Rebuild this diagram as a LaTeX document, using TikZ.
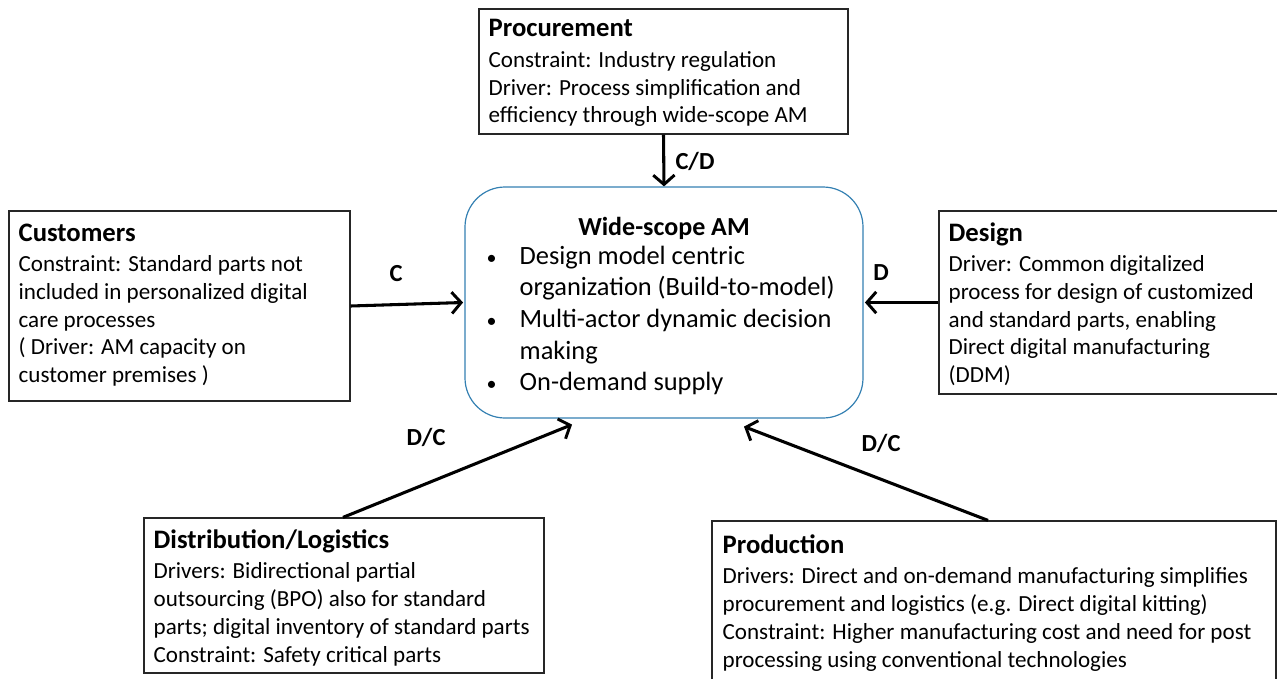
\documentclass[tikz,border=0pt]{standalone}
\usepackage{fontspec}
\setmainfont{Carlito}
\usetikzlibrary{arrows.meta,positioning,calc}
\definecolor{frameblue}{RGB}{52,128,178}
\newcommand{\ttl}[1]{{\fontsize{20}{20.8}\selectfont\bfseries #1}}
\newlength{\bulw}
\setlength{\bulw}{24.75pt}
\newcommand{\bul}{\makebox[\bulw][l]{{\fontsize{15}{15}\selectfont•}}}
\tikzset{
  box/.style={draw=black!85, line width=0.9pt, rectangle, inner sep=0pt},
  txt/.style={inner sep=0pt, align=left, anchor=north west,
    font=\fontsize{17.3}{20.8}\selectfont},
  link/.style={line width=2.3pt, -{Straight Barb[length=7pt,width=16pt,line width=2.2pt]}},
  tag/.style={font=\fontsize{18.4}{20}\selectfont\bfseries, inner sep=0pt}
}
\begin{document}
\begin{tikzpicture}[x=0.75pt,y=-0.75pt]
\useasboundingbox (0,0) rectangle (1277,678);
\clip (0,0) rectangle (1277,678);

% central box
\node[draw=frameblue, line width=0.9pt, rounded corners=30pt, minimum width=298.5pt, minimum height=173.25pt, inner sep=0pt] (wide) at (664,302.5) {};
\node[font=\fontsize{19.5}{22}\selectfont\bfseries, inner sep=0pt] (widettl) at ([yshift=-42*0.75pt]wide.north) {Wide-scope AM};
\node[inner sep=0pt, align=left, anchor=north west, font=\fontsize{19.8}{23.8}\selectfont] (widetxt) at ([shift={(22*0.75pt,-59*0.75pt)}]wide.north west)
 {\bul Design model centric\\
  \hspace*{\bulw}organization (Build-to-model)\\
  \bul Multi-actor dynamic decision\\
  \hspace*{\bulw}making\\
  \bul On-demand supply};

% surrounding boxes
\node[box, minimum width=276.75pt, minimum height=93.75pt] (proc) at (663.5,71.5) {};
\node[txt] (proctxt) at ([shift={(10*0.75pt,-11*0.75pt)}]proc.north west)
 {\ttl{Procurement}\\[2pt]
  Constraint: Industry regulation\\
  Driver: Process simplification and\\
  efficiency through wide-scope AM};

\node[box, minimum width=255.75pt, minimum height=142.5pt] (cust) at (179.5,306) {};
\node[txt] (custtxt) at ([shift={(10*0.75pt,-13*0.75pt)}]cust.north west)
 {\ttl{Customers}\\[2pt]
  Constraint: Standard parts not\\
  included in personalized digital\\
  care processes\\
  ( Driver: AM capacity on\\
  customer premises )};

\node[box, minimum width=263.25pt, minimum height=137.25pt] (des) at (1114.5,302.5) {};
\node[txt] (destxt) at ([shift={(10*0.75pt,-12*0.75pt)}]des.north west)
 {\ttl{Design}\\[2pt]
  Driver: Common digitalized\\
  process for design of customized\\
  and standard parts, enabling\\
  Direct digital manufacturing\\
  (DDM)};

\node[box, minimum width=300pt, minimum height=116.25pt] (dist) at (344,595.5) {};
\node[txt] (disttxt) at ([shift={(10*0.75pt,-12*0.75pt)}]dist.north west)
 {\ttl{Distribution/Logistics}\\[2pt]
  Drivers: Bidirectional partial\\
  outsourcing (BPO) also for standard\\
  parts; digital inventory of standard parts\\
  Constraint: Safety critical parts};

\node[box, minimum width=423pt, minimum height=127.5pt] (prod) at (994,606) {};
\node[txt] (prodtxt) at ([shift={(11*0.75pt,-14*0.75pt)}]prod.north west)
 {\ttl{Production}\\[2pt]
  Drivers: Direct and on-demand manufacturing simplifies\\
  procurement and logistics (e.g. Direct digital kitting)\\
  Constraint: Higher manufacturing cost and need for post\\
  processing using conventional technologies};

% arrow end points on the lower edge of the central box
\coordinate (tipL) at ([shift={(-92*0.75pt,-6*0.75pt)}]wide.south);
\coordinate (tipR) at ([shift={(80*0.75pt,-8*0.75pt)}]wide.south);

% connectors
\draw[link] (proc.south) -- (wide.north);
\draw[link] (cust.east) -- ([xshift=-1pt]wide.west);
\draw[link] (des.west) -- ([xshift=1pt]wide.east);
\draw[link] ([xshift=-0.75pt]dist.north) -- (tipL);
\draw[link] ([xshift=-4.5pt]prod.north) -- (tipR);

% labels
\node[tag] (lproc) at (695,161) {C/D};
\node[tag] (lcust) at (396,274) {C};
\node[tag] (ldes) at (881,273) {D};
\node[tag] (ldist) at (426,437) {D/C};
\node[tag] (lprod) at (881,443) {D/C};
\end{tikzpicture}
\end{document}
